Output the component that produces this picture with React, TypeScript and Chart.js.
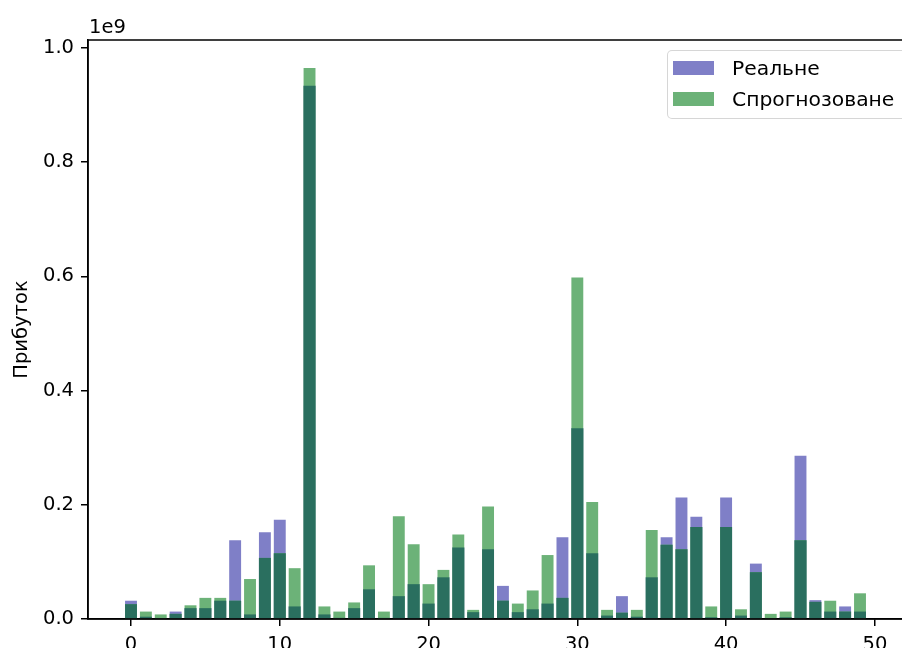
import React, { useEffect, useRef } from "react";
import { Chart, registerables } from "chart.js";

Chart.register(...registerables);

// Categories (x positions 0..49)
const categories: number[] = [
  0, 1, 2, 3, 4, 5, 6, 7, 8, 9,
  10, 11, 12, 13, 14, 15, 16, 17, 18, 19,
  20, 21, 22, 23, 24, 25, 26, 27, 28, 29,
  30, 31, 32, 33, 34, 35, 36, 37, 38, 39,
  40, 41, 42, 43, 44, 45, 46, 47, 48, 49,
];

// Values in units of 1e9
const realValues: number[] = [
  0.032, 0.004, 0.001, 0.013, 0.019, 0.019, 0.032, 0.138, 0.008, 0.152,
  0.174, 0.022, 0.934, 0.008, 0.002, 0.019, 0.052, 0.002, 0.040, 0.061,
  0.027, 0.073, 0.125, 0.012, 0.122, 0.058, 0.012, 0.017, 0.027, 0.143,
  0.334, 0.115, 0.006, 0.040, 0.004, 0.073, 0.143, 0.213, 0.179, 0.003,
  0.213, 0.006, 0.097, 0.001, 0.003, 0.286, 0.033, 0.013, 0.022, 0.013,
];

const predictedValues: number[] = [
  0.026, 0.013, 0.008, 0.009, 0.024, 0.037, 0.037, 0.032, 0.070, 0.107,
  0.115, 0.089, 0.965, 0.022, 0.013, 0.029, 0.094, 0.013, 0.180, 0.131,
  0.061, 0.086, 0.148, 0.016, 0.197, 0.032, 0.027, 0.050, 0.112, 0.037,
  0.598, 0.205, 0.016, 0.011, 0.016, 0.156, 0.130, 0.122, 0.161, 0.022,
  0.161, 0.017, 0.082, 0.009, 0.013, 0.138, 0.030, 0.032, 0.013, 0.045,
];

const xTicks: number[] = [0, 10, 20, 30, 40, 50];
const yTicks: number[] = [0, 0.2, 0.4, 0.6, 0.8, 1.0];

const seriesLabels: string[] = ["Реальне", "Спрогнозоване"];
const yAxisLabel = "Прибуток";
const offsetText = "1e9";

const BLUE = "#7f7fc7";
const GREEN = "#6cb278";
const DARK = "#2a6f5f";
const FONT = "'DejaVu Sans', sans-serif";
const FS = 19.5;

export default function App() {
  const ref = useRef<HTMLCanvasElement>(null);

  useEffect(() => {
    const overlap = realValues.map((r, i) => Math.min(r, predictedValues[i]));
    const toPts = (arr: number[]) => arr.map((y, i) => ({ x: categories[i], y }));

    const framePlugin = {
      id: "frame",
      afterDraw(chart: any) {
        const { ctx, chartArea } = chart;
        ctx.save();
        ctx.strokeStyle = "#000";
        ctx.lineWidth = 1.5;
        ctx.strokeRect(chartArea.left, chartArea.top, chartArea.right - chartArea.left, chartArea.bottom - chartArea.top);
        ctx.fillStyle = "#000";
        ctx.font = `${FS}px ${FONT}`;
        ctx.textAlign = "left";
        ctx.textBaseline = "alphabetic";
        ctx.fillText(offsetText, chartArea.left + 1, chartArea.top - 7);
        ctx.restore();
      },
    };

    const chart = new Chart(ref.current as HTMLCanvasElement, {
      type: "bar",
      data: {
        datasets: [
          { label: seriesLabels[0], data: toPts(realValues), backgroundColor: BLUE, order: 2 } as any,
          { label: seriesLabels[1], data: toPts(predictedValues), backgroundColor: GREEN, order: 1 } as any,
          { label: "overlap", data: toPts(overlap), backgroundColor: DARK, order: 0 } as any,
        ],
      },
      options: {
        responsive: false,
        animation: false,
        devicePixelRatio: 1,
        layout: { padding: { left: 0, right: 3, top: 40, bottom: 0 } },
        datasets: { bar: { grouped: false, barPercentage: 0.8, categoryPercentage: 1 } as any },
        plugins: { legend: { display: false }, tooltip: { enabled: false } },
        scales: {
          x: {
            type: "linear",
            min: -2.89,
            max: 51.89,
            offset: false,
            grid: { display: true, offset: false, drawOnChartArea: false, tickLength: 7, color: "#000", lineWidth: 1.5 },
            border: { display: true, color: "#000", width: 1.5 },
            ticks: { padding: 7, color: "#000", font: { size: FS, family: FONT }, maxRotation: 0 },
            afterBuildTicks: (s: any) => { s.ticks = xTicks.map((v) => ({ value: v })); },
            afterFit: (s: any) => { s.height = 40; },
          } as any,
          y: {
            type: "linear",
            min: 0,
            max: 1.014,
            grid: { display: true, offset: false, drawOnChartArea: false, tickLength: 7, color: "#000", lineWidth: 1.5 },
            border: { display: true, color: "#000", width: 1.5 },
            ticks: { padding: 7, color: "#000", font: { size: FS, family: FONT }, callback: (v: any) => Number(v).toFixed(1) },
            title: { display: true, text: yAxisLabel, color: "#000", font: { size: FS, family: FONT }, padding: { top: 10, bottom: 0 } },
            afterBuildTicks: (s: any) => { s.ticks = yTicks.map((v) => ({ value: v })); },
            afterFit: (s: any) => { s.width = 88; },
          } as any,
        },
      },
      plugins: [framePlugin],
    });
    return () => chart.destroy();
  }, []);

  const legendRow = (label: string, color: string, top: number) => (
    <div style={{ position: "absolute", left: 0, top, height: 30, display: "flex", alignItems: "center" }}>
      <div style={{ width: 41, height: 14, background: color, marginLeft: 5 }} />
      <span style={{ marginLeft: 18, fontFamily: FONT, fontSize: 20.3, color: "#000", whiteSpace: "nowrap" }}>{label}</span>
    </div>
  );

  return (
    <div style={{ position: "fixed", left: 0, top: 0, width: 902, height: 648, overflow: "hidden", background: "#fff" }}>
      <canvas ref={ref} width={906} height={659} style={{ position: "absolute", left: 0, top: 0, width: 906, height: 659 }} />
      <div
        style={{
          position: "absolute",
          left: 667,
          top: 50,
          width: 250,
          height: 69,
          background: "rgba(255,255,255,0.8)",
          border: "1.5px solid rgba(204,204,204,0.8)",
          borderRadius: 5,
          boxSizing: "border-box",
        }}
      >
        {legendRow(seriesLabels[0], BLUE, 2)}
        {legendRow(seriesLabels[1], GREEN, 33)}
      </div>
    </div>
  );
}
